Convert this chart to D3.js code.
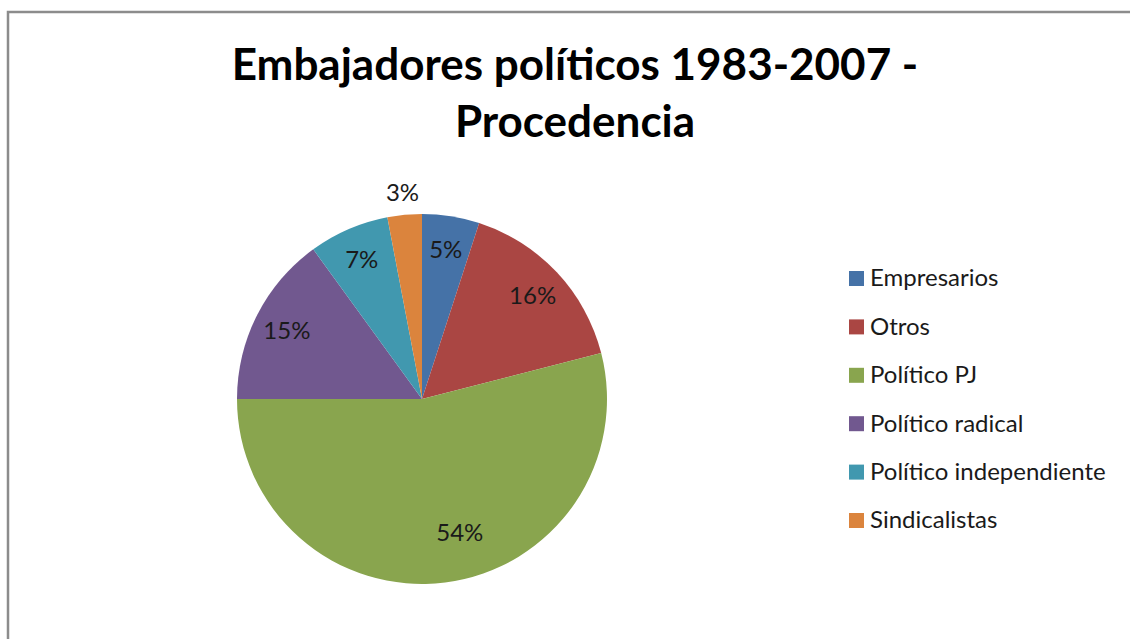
<!DOCTYPE html>
<html>
<head>
<meta charset="utf-8">
<script src="https://cdn.jsdelivr.net/npm/d3@7"></script>
<style>
  body { margin: 0; background: #fff; }
  svg { display: block; font-family: Lato, "Open Sans", sans-serif; }
</style>
</head>
<body>
<svg id="chart"></svg>
<script>
// data
var categories = ["Empresarios", "Otros", "Político PJ", "Político radical", "Político independiente", "Sindicalistas"];
var values = [5, 16, 54, 15, 7, 3];
var colorList = ["#4572A7", "#AA4643", "#89A54E", "#71588F", "#4198AF", "#DB843D"];
var titleLines = ["Embajadores políticos 1983-2007 -", "Procedencia"];

var width = 1130, height = 639;
var cx = 422, cy = 399, radius = 185;

var svg = d3.select("#chart")
    .attr("width", width)
    .attr("height", height);

// chart frame (only left and top edges show in the crop)
svg.append("rect")
    .attr("x", 8).attr("y", 12)
    .attr("width", 1140).attr("height", 660)
    .attr("fill", "#fff")
    .attr("stroke", "#8c8c8c")
    .attr("stroke-width", 2.5);

// title
svg.append("g").selectAll("text")
    .data(titleLines)
  .enter().append("text")
    .attr("x", 575)
    .attr("y", function(d, i) { return 80 + i * 57; })
    .attr("text-anchor", "middle")
    .style("font-size", "44px")
    .style("font-weight", "bold")
    .text(function(d) { return d; });

var data = categories.map(function(c, i) { return {name: c, value: values[i]}; });

var color = d3.scaleOrdinal().domain(categories).range(colorList);

var pie = d3.pie()
    .sort(null)
    .value(function(d) { return d.value; });

var arc = d3.arc()
    .innerRadius(0)
    .outerRadius(radius);

var labelArc = d3.arc()
    .innerRadius(radius * 0.82)
    .outerRadius(radius * 0.82);

var bigArc = d3.arc()
    .innerRadius(radius * 0.75)
    .outerRadius(radius * 0.75);

var outerLabel = d3.arc()
    .innerRadius(radius * 1.12)
    .outerRadius(radius * 1.12);

var g = svg.append("g")
    .attr("transform", "translate(" + cx + "," + cy + ")");

var slices = g.selectAll(".arc")
    .data(pie(data))
  .enter().append("g")
    .attr("class", "arc");

slices.append("path")
    .attr("d", arc)
    .attr("fill", function(d) { return color(d.data.name); });

// percent labels; the small orange slice gets its label outside,
// the big slice label sits a bit toward the start of the slice like Excel's best fit
slices.append("text")
    .attr("transform", function(d) {
      var p;
      if (d.data.value < 4) p = outerLabel.centroid(d);
      else if (d.data.value > 50) {
        var mid = (d.startAngle + d.endAngle) / 2 - 0.15;
        p = bigArc.centroid({startAngle: mid, endAngle: mid});
      }
      else p = labelArc.centroid(d);
      return "translate(" + p + ")";
    })
    .attr("text-anchor", "middle")
    .attr("dy", "0.35em")
    .style("font-size", "24px")
    .attr("fill", "#1a1a1a")
    .text(function(d) { return d.data.value + "%"; });

// legend
var legend = svg.append("g")
    .attr("transform", "translate(849,278)");

var item = legend.selectAll(".legend")
    .data(categories)
  .enter().append("g")
    .attr("class", "legend")
    .attr("transform", function(d, i) { return "translate(0," + (i * 48.4) + ")"; });

item.append("rect")
    .attr("x", 0).attr("y", -7)
    .attr("width", 15).attr("height", 15)
    .attr("fill", function(d) { return color(d); });

item.append("text")
    .attr("x", 21)
    .attr("dy", "0.35em")
    .style("font-size", "24px")
    .attr("fill", "#1a1a1a")
    .text(function(d) { return d; });
</script>
</body>
</html>
